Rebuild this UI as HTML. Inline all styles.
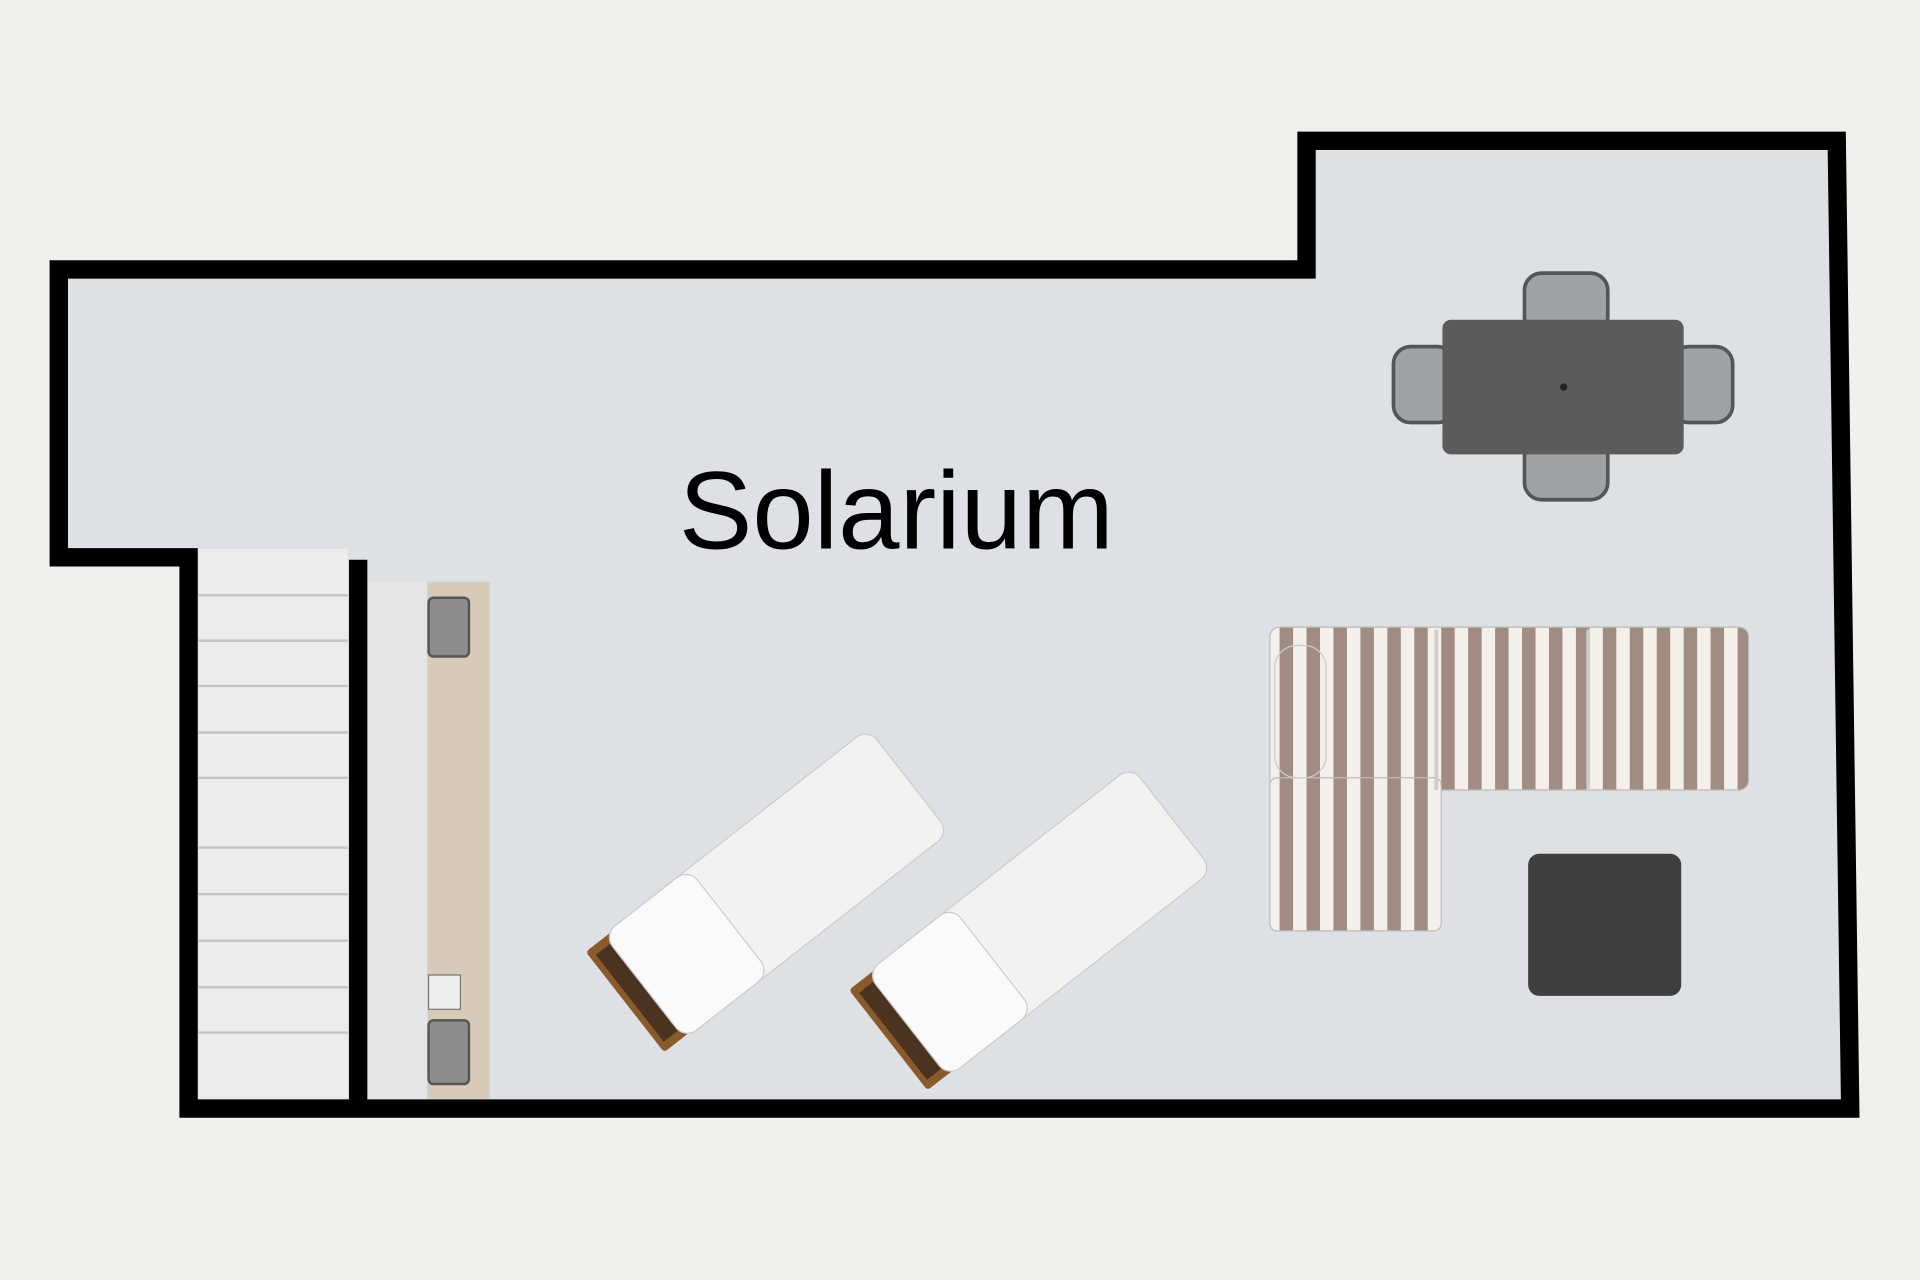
<!DOCTYPE html>
<html><head><style>html,body{margin:0;padding:0;background:#f1f0ec;width:1920px;height:1280px;overflow:hidden}</style></head>
<body>
<svg width="1920" height="1280" viewBox="0 0 1568 1045" preserveAspectRatio="none" xmlns="http://www.w3.org/2000/svg">
<defs>
<pattern id="st" width="22" height="22" patternUnits="userSpaceOnUse">
<rect width="22" height="22" fill="#f3efea"/><rect x="11" width="11" height="22" fill="#a08c80"/>
</pattern>
</defs>
<rect width="1568" height="1045" fill="#f1f0ec"/>
<path d="M48,220 L1067,220 L1067,115 L1500,115 L1511,905 L154,905 L154,455 L48,455 Z" fill="#dde0e5"/>
<rect x="162" y="448" width="122" height="449" fill="#ececec"/>
<g stroke="#c4c4c4" stroke-width="2">
<line x1="162" y1="486" x2="284" y2="486"/><line x1="162" y1="523" x2="284" y2="523"/>
<line x1="162" y1="560" x2="284" y2="560"/><line x1="162" y1="598" x2="284" y2="598"/>
<line x1="162" y1="635" x2="284" y2="635"/><line x1="162" y1="692" x2="284" y2="692"/>
<line x1="162" y1="730" x2="284" y2="730"/><line x1="162" y1="768" x2="284" y2="768"/>
<line x1="162" y1="806" x2="284" y2="806"/><line x1="162" y1="843" x2="284" y2="843"/>
</g>
<rect x="300" y="475" width="49" height="422" fill="#e4e5e7"/>
<rect x="349" y="475" width="51" height="422" fill="#d8cab8"/>
<rect x="350" y="488" width="33" height="48" rx="4" fill="#8a8c8e" stroke="#555" stroke-width="2"/>
<rect x="350" y="833" width="33" height="52" rx="4" fill="#8a8c8e" stroke="#555" stroke-width="2"/>
<rect x="350" y="796" width="26" height="28" fill="#eee" stroke="#777"/>
<path d="M48,455 L48,220 L1067,220 L1067,115 L1500,115 L1511,905 L154,905 L154,455 L48,455 Z" fill="none" stroke="#000" stroke-width="15" stroke-linejoin="miter"/>
<rect x="285" y="457" width="15" height="448" fill="#000"/>
<text x="732" y="448" font-family="Liberation Sans, sans-serif" font-size="90" text-anchor="middle" fill="#000">Solarium</text>
<g fill="#9ea3a8" stroke="#555" stroke-width="3">
<rect x="1245" y="223" width="68" height="50" rx="14"/>
<rect x="1245" y="358" width="68" height="50" rx="14"/>
<rect x="1138" y="283" width="50" height="62" rx="14"/>
<rect x="1365" y="283" width="50" height="62" rx="14"/>
</g>
<rect x="1178" y="261" width="197" height="110" rx="7" fill="#5b5b5b"/>
<circle cx="1277" cy="316" r="3" fill="#222"/>
<rect x="1037" y="512" width="391" height="133" rx="8" fill="url(#st)" stroke="#bbb"/>
<rect x="1037" y="635" width="140" height="125" rx="6" fill="url(#st)" stroke="#bbb"/>
<line x1="1173" y1="514" x2="1173" y2="645" stroke="#ccc" stroke-width="3"/>
<line x1="1297" y1="514" x2="1297" y2="645" stroke="#ccc" stroke-width="3"/>
<rect x="1041" y="527" width="42" height="108" rx="18" fill="url(#st)" stroke="#ccc"/>
<rect x="1248" y="697" width="125" height="116" rx="9" fill="#3e3e3e"/>
<g transform="translate(627,727) rotate(-38)">
<rect x="-148" y="-52" width="36" height="104" rx="3" fill="#8a5a2b"/>
<rect x="-143" y="-45" width="28" height="90" fill="#4a3420"/>
<rect x="-128" y="-54" width="274" height="108" rx="12" fill="#f2f2f2" stroke="#ccc"/>
<rect x="-128" y="-54" width="88" height="108" rx="12" fill="#fafafa" stroke="#ccc"/>
</g>
<g transform="translate(842,758) rotate(-38)">
<rect x="-148" y="-52" width="36" height="104" rx="3" fill="#8a5a2b"/>
<rect x="-143" y="-45" width="28" height="90" fill="#4a3420"/>
<rect x="-128" y="-54" width="274" height="108" rx="12" fill="#f2f2f2" stroke="#ccc"/>
<rect x="-128" y="-54" width="88" height="108" rx="12" fill="#fafafa" stroke="#ccc"/>
</g>
</svg>
</body></html>
